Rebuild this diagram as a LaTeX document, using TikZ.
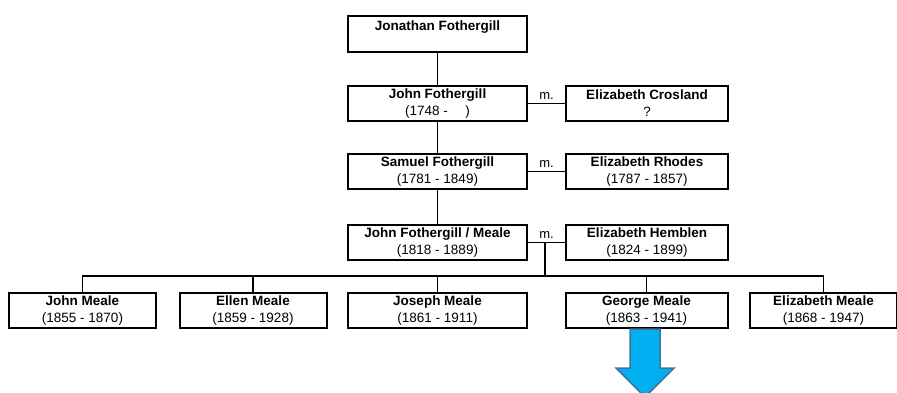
\documentclass[tikz,border=0pt]{standalone}
\usepackage{fontspec}
\setmainfont{Liberation Sans}
\usepackage{tikz}

\definecolor{arrowfill}{HTML}{00B0F0}
\definecolor{arrowdraw}{HTML}{41719C}

\begin{document}
\begin{tikzpicture}[x=1pt,y=-1pt]
        \tikzset{
        person/.style={rectangle, draw, line width=2pt, minimum height=35pt,
        inner sep=0pt, align=center, font=\fontsize{13.5}{17}\selectfont},
        big/.style={person, minimum width=179pt},
        spouse/.style={person, minimum width=162pt},
        kid/.style={person, minimum width=147pt},
        line/.style={-, line width=1.8pt},
        wed/.style={font=\fontsize{13}{14}\selectfont, above=0pt}
        }
        \useasboundingbox (0,0) rectangle (897,392);

        \node[big, minimum height=36pt] (jon) at (437.5,34) {\textbf{Jonathan Fothergill}\\~};
        \node[big] (john) at (437.5,103.5) {\textbf{John Fothergill}\\(1748 -\hspace{1.3em})};
        \node[spouse] (eliz1) at (647,103.5) {\textbf{Elizabeth Crosland}\\?};
        \node[big] (sam) at (437.5,171.5) {\textbf{Samuel Fothergill}\\(1781 - 1849)};
        \node[spouse] (eliz2) at (647,171.5) {\textbf{Elizabeth Rhodes}\\(1787 - 1857)};
        \node[big] (jfm) at (437.5,242.5) {\textbf{John Fothergill / Meale}\\(1818 - 1889)};
        \node[spouse] (eliz3) at (647,242.5) {\textbf{Elizabeth Hemblen}\\(1824 - 1899)};

        \node[kid] (k1) at (82.5,310.5) {\textbf{John Meale}\\(1855 - 1870)};
        \node[kid] (k2) at (253,310.5) {\textbf{Ellen Meale}\\(1859 - 1928)};
        \node[big] (k3) at (437.5,310.5) {\textbf{Joseph Meale}\\(1861 - 1911)};
        \node[spouse] (k4) at (646.5,310.5) {\textbf{George Meale}\\(1863 - 1941)};
        \node[kid] (k5) at (823.5,310.5) {\textbf{Elizabeth Meale}\\(1868 - 1947)};

        % descent
        \draw[line] (jon) -- (john);
        \draw[line] (john) -- (sam);
        \draw[line] (sam) -- (jfm);

        % marriages
        \draw[line] (john) -- node[wed] {m.} (eliz1);
        \draw[line] (sam) -- node[wed] {m.} (eliz2);
        \draw[line] (jfm) -- node[wed] (m3) {m.} (eliz3);

        % children
        \coordinate (wed3) at (545,242.5);
        \coordinate (bar) at (545,276);
        \draw[line] (wed3) -- (bar);
        \draw[line] (k1.north) |- (bar) -| (k5.north);
        \draw[line] (k2.north) -- (k2.north |- bar);
        \draw[line] (k3.north) -- (k3.north |- bar);
        \draw[line] (k4.north) -- (k4.north |- bar);

        % arrow down
        \draw[fill=arrowfill, draw=arrowdraw, line width=1.5pt, line join=miter]
          (630,329) -- (660,329) -- (660,368) -- (674,368) -- (645,397)
          -- (616,368) -- (630,368) -- cycle;
\end{tikzpicture}
\end{document}
